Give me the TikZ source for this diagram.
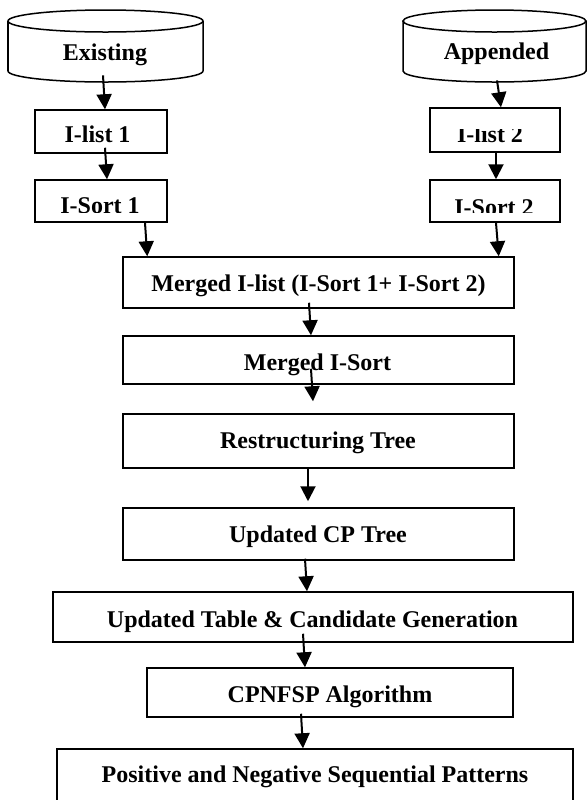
\documentclass[tikz,border=0pt]{standalone}
\usepackage{fontspec}
\setmainfont{Liberation Serif}
\usetikzlibrary{arrows.meta,calc}
\begin{document}
\begin{tikzpicture}[x=0.5pt,y=-0.5pt,
  box/.style={draw,line width=0.75pt,inner sep=0pt,rectangle},
  lbl/.style={anchor=base,inner sep=0pt,font=\fontsize{12}{14}\selectfont\bfseries},
  area/.style={inner sep=0pt,draw=none},
  cyl/.style={line width=0.75pt},
  arr/.style={line width=1pt,-{Triangle[length=7.5pt,width=7.5pt]}}]
\useasboundingbox (0,0) rectangle (588,800);
% cylinders
\node[area,minimum width=97.5pt,minimum height=36pt] (ex) at (105.5,46) {};
\node[area,minimum width=91.5pt,minimum height=36pt] (ap) at (494.5,46) {};
\draw[cyl] (8,21) -- (8,71) arc[start angle=180,end angle=360,x radius=48.75pt,y radius=5.5pt] -- (203,21);
\draw[cyl] (105.5,21) ellipse[x radius=48.75pt,y radius=5.5pt];
\draw[cyl] (403,21) -- (403,71) arc[start angle=180,end angle=360,x radius=45.75pt,y radius=5.5pt] -- (586,21);
\draw[cyl] (494.5,21) ellipse[x radius=45.75pt,y radius=5.5pt];
\node[lbl] (tex) at (105,60) {Existing};
\node[lbl] (tap) at (496.5,59) {Appended};
% boxes
\node[box,minimum width=66pt,minimum height=21.5pt] (il1) at (101,131.5) {};
\node[box,minimum width=66pt,minimum height=21pt] (is1) at (101,201) {};
\node[box,minimum width=65pt,minimum height=22pt] (il2) at (495,130) {};
\node[box,minimum width=65pt,minimum height=21pt] (is2) at (495,201) {};
\node[box,minimum width=195.5pt,minimum height=25.5pt] (mg) at (318.5,282.5) {};
\node[box,minimum width=195.5pt,minimum height=24pt] (ms) at (318.5,360) {};
\node[box,minimum width=195.5pt,minimum height=27pt] (rt) at (318.5,441) {};
\node[box,minimum width=195.5pt,minimum height=26pt] (cp) at (318.5,534) {};
\node[box,minimum width=260pt,minimum height=25pt] (tb) at (313,617) {};
\node[box,minimum width=183pt,minimum height=24.5pt] (al) at (330,692.5) {};
\node[box,minimum width=258pt,minimum height=30.5pt] (ps) at (315,779.5) {};
% labels
\node[lbl] (til1) at (97.5,142) {I-list 1};
\begin{scope}
\clip (430,129) rectangle (560,152);
\node[lbl] (til2) at (490,142) {I-list 2};
\end{scope}
\begin{scope}
\clip (35,180) rectangle (167,212);
\node[lbl] (tis1) at (100,213) {I-Sort 1};
\end{scope}
\begin{scope}
\clip (430,180) rectangle (560,212);
\node[lbl] (tis2) at (494,215) {I-Sort 2};
\end{scope}
\node[lbl] (tmg) at (318.5,291) {Merged I-list (I-Sort 1+ I-Sort 2)};
\node[lbl] (tms) at (317.5,370) {Merged I-Sort};
\node[lbl] (trt) at (318,448) {Restructuring Tree};
\node[lbl] (tcp) at (318,542) {Updated CP Tree};
\node[lbl] (ttb) at (312.5,627) {Updated Table \& Candidate Generation};
\node[lbl] (tal) at (330,702) {CPNFSP Algorithm};
\node[lbl] (tps) at (315,782) {Positive and Negative Sequential Patterns};
% arrows
\draw[arr] ($(ex.south)+(-2.5,-7)$) -- ($(il1.north)+(4,0)$);
\draw[arr] ($(il1.south)+(4,-6)$) -- ($(is1.north)+(6,0)$);
\draw[arr] ($(is1.south)+(44,0)$) -- ($(mg.north west)+(25,0)$);
\draw[arr] ($(ap.south)+(2.5,-2)$) -- ($(il2.north)+(6,0)$);
\draw[arr] ($(il2.south)+(1,0)$) -- ($(is2.north)+(1,0)$);
\draw[arr] ($(is2.south)+(1,0)$) -- ($(mg.north east)+(-16,0)$);
\draw[arr] ($(mg.south)+(-9.5,-6)$) -- ($(ms.north)+(-7.5,0)$);
\draw[arr] ($(ms.south)+(-7.5,-16)$) -- ($(rt.north)+(-5.5,-12)$);
\draw[arr] ($(rt.south)+(-10.5,0)$) -- ($(cp.north)+(-10.5,-6)$);
\draw[arr] ($(cp.south)+(-13.5,-2)$) -- ($(tb.north)+(-6,0)$);
\draw[arr] ($(tb.south)+(-10,-9)$) -- ($(al.north)+(-25,0)$);
\draw[arr] ($(al.south)+(-29,-4)$) -- ($(ps.north)+(-12,0)$);
\end{tikzpicture}
\end{document}
